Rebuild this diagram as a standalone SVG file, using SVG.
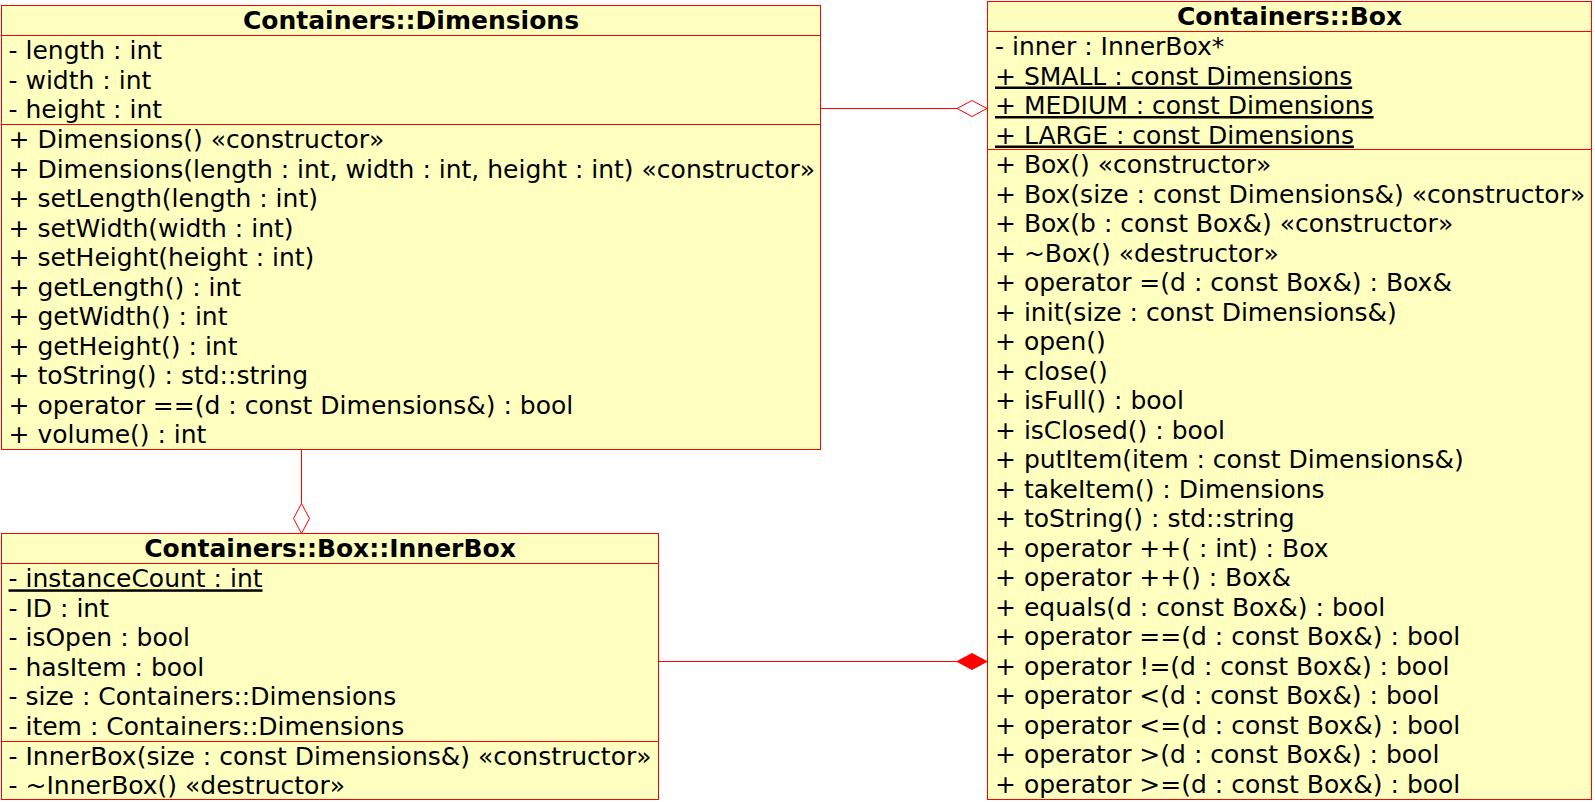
<svg xmlns="http://www.w3.org/2000/svg" width="1595" height="802" viewBox="0 0 1595 802">
  <style>
    .cls { fill: #ffffc0; stroke: #ff0000; stroke-width: 1; }
    .sep { stroke: #ff0000; stroke-width: 1; }
    .title { font-family: "DejaVu Sans", "Liberation Sans", sans-serif; font-size: 25px; font-weight: bold; fill: #000; text-anchor: middle; }
    .m { font-family: "DejaVu Sans", "Liberation Sans", sans-serif; font-size: 25px; fill: #000; }
    .st { text-decoration: underline; }
    .edge { stroke: #ff0000; stroke-width: 1; fill: none; }
    .hollow { fill: #ffffff; stroke: #ff0000; stroke-width: 1; }
    .solid { fill: #ff0000; stroke: #ff0000; stroke-width: 1; }
  </style>
  <rect width="1595" height="802" fill="#ffffff"/>

  <!-- class Containers::Dimensions -->
  <g id="dimensions">
    <rect class="cls" x="1.5" y="5.5" width="819" height="444"/>
    <line class="sep" x1="1.5" y1="35.5" x2="820.5" y2="35.5"/>
    <line class="sep" x1="1.5" y1="124.5" x2="820.5" y2="124.5"/>
    <text class="title" x="411" y="29">Containers::Dimensions</text>
    <text class="m" x="8.5" y="59.3">- length : int</text>
    <text class="m" x="8.5" y="88.8">- width : int</text>
    <text class="m" x="8.5" y="118.3">- height : int</text>
    <text class="m" x="8.5" y="148">+ Dimensions() «constructor»</text>
    <text class="m" x="8.5" y="177.5">+ Dimensions(length : int, width : int, height : int) «constructor»</text>
    <text class="m" x="8.5" y="207">+ setLength(length : int)</text>
    <text class="m" x="8.5" y="236.5">+ setWidth(width : int)</text>
    <text class="m" x="8.5" y="266">+ setHeight(height : int)</text>
    <text class="m" x="8.5" y="295.5">+ getLength() : int</text>
    <text class="m" x="8.5" y="325">+ getWidth() : int</text>
    <text class="m" x="8.5" y="354.5">+ getHeight() : int</text>
    <text class="m" x="8.5" y="384">+ toString() : std::string</text>
    <text class="m" x="8.5" y="413.5">+ operator ==(d : const Dimensions&amp;) : bool</text>
    <text class="m" x="8.5" y="443">+ volume() : int</text>
  </g>

  <!-- class Containers::Box -->
  <g id="box">
    <rect class="cls" x="987.5" y="1.5" width="604" height="798"/>
    <line class="sep" x1="987.5" y1="31.5" x2="1591.5" y2="31.5"/>
    <line class="sep" x1="987.5" y1="149.5" x2="1591.5" y2="149.5"/>
    <text class="title" x="1289.5" y="25">Containers::Box</text>
    <text class="m" x="995" y="55">- inner : InnerBox*</text>
    <text class="m st" x="995" y="84.5">+ SMALL : const Dimensions</text>
    <text class="m st" x="995" y="114">+ MEDIUM : const Dimensions</text>
    <text class="m st" x="995" y="143.5">+ LARGE : const Dimensions</text>
    <text class="m" x="995" y="173">+ Box() «constructor»</text>
    <text class="m" x="995" y="202.5">+ Box(size : const Dimensions&amp;) «constructor»</text>
    <text class="m" x="995" y="232">+ Box(b : const Box&amp;) «constructor»</text>
    <text class="m" x="995" y="261.5">+ ~Box() «destructor»</text>
    <text class="m" x="995" y="291">+ operator =(d : const Box&amp;) : Box&amp;</text>
    <text class="m" x="995" y="320.5">+ init(size : const Dimensions&amp;)</text>
    <text class="m" x="995" y="350">+ open()</text>
    <text class="m" x="995" y="379.5">+ close()</text>
    <text class="m" x="995" y="409">+ isFull() : bool</text>
    <text class="m" x="995" y="438.5">+ isClosed() : bool</text>
    <text class="m" x="995" y="468">+ putItem(item : const Dimensions&amp;)</text>
    <text class="m" x="995" y="497.5">+ takeItem() : Dimensions</text>
    <text class="m" x="995" y="527">+ toString() : std::string</text>
    <text class="m" x="995" y="556.5">+ operator ++( : int) : Box</text>
    <text class="m" x="995" y="586">+ operator ++() : Box&amp;</text>
    <text class="m" x="995" y="615.5">+ equals(d : const Box&amp;) : bool</text>
    <text class="m" x="995" y="645">+ operator ==(d : const Box&amp;) : bool</text>
    <text class="m" x="995" y="674.5">+ operator !=(d : const Box&amp;) : bool</text>
    <text class="m" x="995" y="704">+ operator &lt;(d : const Box&amp;) : bool</text>
    <text class="m" x="995" y="733.5">+ operator &lt;=(d : const Box&amp;) : bool</text>
    <text class="m" x="995" y="763">+ operator &gt;(d : const Box&amp;) : bool</text>
    <text class="m" x="995" y="792.5">+ operator &gt;=(d : const Box&amp;) : bool</text>
  </g>

  <!-- class Containers::Box::InnerBox -->
  <g id="innerbox">
    <rect class="cls" x="1.5" y="533.5" width="657" height="266"/>
    <line class="sep" x1="1.5" y1="563.5" x2="658.5" y2="563.5"/>
    <line class="sep" x1="1.5" y1="741.5" x2="658.5" y2="741.5"/>
    <text class="title" x="330" y="557">Containers::Box::InnerBox</text>
    <text class="m st" x="8.5" y="587.3">- instanceCount : int</text>
    <text class="m" x="8.5" y="616.8">- ID : int</text>
    <text class="m" x="8.5" y="646.3">- isOpen : bool</text>
    <text class="m" x="8.5" y="675.8">- hasItem : bool</text>
    <text class="m" x="8.5" y="705.3">- size : Containers::Dimensions</text>
    <text class="m" x="8.5" y="734.8">- item : Containers::Dimensions</text>
    <text class="m" x="8.5" y="764.5">- InnerBox(size : const Dimensions&amp;) «constructor»</text>
    <text class="m" x="8.5" y="794">- ~InnerBox() «destructor»</text>
  </g>

  <!-- associations -->
  <g id="connectors">
    <!-- Dimensions aggregated by Box -->
    <line class="edge" x1="820.5" y1="108.5" x2="957" y2="108.5"/>
    <polygon class="hollow" points="957,108.5 972,100.5 987,108.5 972,116.5"/>
    <!-- Dimensions aggregated by InnerBox -->
    <line class="edge" x1="301.5" y1="449.5" x2="301.5" y2="503.5"/>
    <polygon class="hollow" points="301.5,503.5 309.5,518.5 301.5,533.5 293.5,518.5"/>
    <!-- InnerBox composed into Box -->
    <line class="edge" x1="658.5" y1="661.5" x2="957" y2="661.5"/>
    <polygon class="solid" points="957,661.5 972,653.5 987,661.5 972,669.5"/>
  </g>
</svg>
